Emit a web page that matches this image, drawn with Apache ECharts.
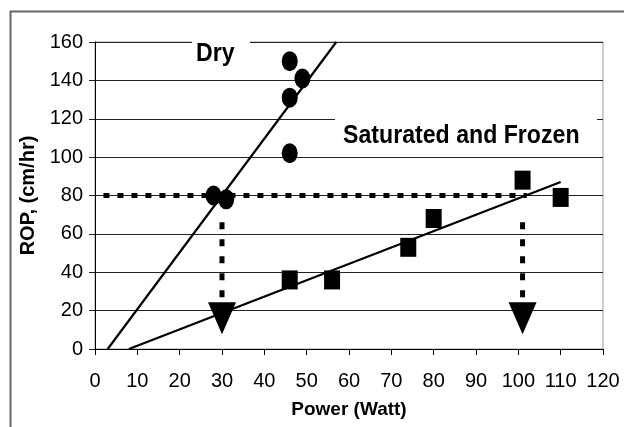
<!DOCTYPE html>
<html>
<head>
<meta charset="utf-8">
<script src="https://cdn.jsdelivr.net/npm/echarts@6/dist/echarts.min.js"></script>
<style>html,body{margin:0;padding:0;background:#fff}#c{width:624px;height:427px}</style>
</head>
<body>
<div id="c"></div>
<script>
// ---- data ----
const xTicks = [0, 10, 20, 30, 40, 50, 60, 70, 80, 90, 100, 110, 120];
const yTicks = [0, 20, 40, 60, 80, 100, 120, 140, 160];

const dryPower = [28, 31, 46, 46, 46, 49];
const dryROP   = [80, 78, 150, 131, 102, 141];

const satPower = [46, 56, 74, 80, 101, 110];
const satROP   = [36, 36, 53, 68, 88, 79];

const dryTrendPower = [3, 57];
const dryTrendROP   = [0, 160];

const satTrendPower = [8, 110];
const satTrendROP   = [0, 87];

const guidePower = [2, 102];
const guideROP   = [80, 80];

const dropPower  = [30, 101];
const dropTopROP = 66;
const dropBotROP = 27;
const arrowROP   = [16, 16];

const labelDry = 'Dry';
const labelSat = 'Saturated and Frozen';
const xTitle = 'Power (Watt)';
const yTitle = 'ROP, (cm/hr)';

// ---- build chart ----
const zip = (a, b) => a.map((v, i) => [v, b[i]]);
const chart = echarts.init(document.getElementById('c'), null, {renderer: 'canvas'});
const FONT = '"Liberation Sans", Arial, sans-serif';
const NARROW = '"Liberation Sans Narrow", "Arial Narrow", "Liberation Sans", sans-serif';

const dropSeries = dropPower.map(p => ({
  type: 'line', data: [[p, dropTopROP], [p, dropBotROP]], symbol: 'none',
  lineStyle: {color: '#000', width: 5, type: [7, 10], cap: 'butt'}, z: 3, silent: true
}));

chart.setOption({
  animation: false,
  backgroundColor: '#fff',
  grid: {left: 95, right: 21, top: 42, bottom: 78, show: true, borderColor: '#9a9a9a', borderWidth: 1},
  xAxis: {
    type: 'value', min: xTicks[0], max: xTicks[xTicks.length - 1], interval: 10,
    name: xTitle, nameLocation: 'middle', nameGap: 51,
    nameTextStyle: {fontFamily: FONT, fontSize: 19, fontWeight: 'bold', color: '#000'},
    axisLine: {lineStyle: {color: '#000', width: 1}},
    axisTick: {show: true, length: 6, lineStyle: {color: '#000'}},
    axisLabel: {fontFamily: NARROW, fontSize: 20, color: '#000', margin: 22},
    splitLine: {show: false}
  },
  yAxis: {
    type: 'value', min: yTicks[0], max: yTicks[yTicks.length - 1], interval: 20,
    name: yTitle, nameLocation: 'middle', nameGap: 57, nameRotate: 90,
    nameTextStyle: {fontFamily: FONT, fontSize: 20, fontWeight: 'bold', color: '#000'},
    axisLine: {show: true, lineStyle: {color: '#000', width: 1}},
    axisTick: {show: true, length: 6, lineStyle: {color: '#222'}},
    axisLabel: {fontFamily: NARROW, fontSize: 20, color: '#000', margin: 12},
    splitLine: {show: true, lineStyle: {color: '#222', width: 1}}
  },
  graphic: [
    {type: 'rect', left: 8, top: 9, shape: {width: 700, height: 500},
     style: {fill: 'none', stroke: '#666', lineWidth: 2}, z: 0, silent: true},
    {type: 'rect', left: 192, top: 34, shape: {width: 58, height: 34},
     style: {fill: '#fff'}, z: 1, silent: true},
    {type: 'text', x: 196, y: 54, scaleX: 0.89,
     style: {text: labelDry, font: 'bold 26px ' + FONT, fill: '#000', align: 'left', verticalAlign: 'middle'}, z: 1},
    {type: 'rect', left: 335, top: 116, shape: {width: 262, height: 38},
     style: {fill: '#fff'}, z: 1, silent: true},
    {type: 'text', x: 343, y: 136, scaleX: 0.89,
     style: {text: labelSat, font: 'bold 26px ' + FONT, fill: '#000', align: 'left', verticalAlign: 'middle'}, z: 1}
  ],
  series: [
    {type: 'line', data: zip(guidePower, guideROP), symbol: 'none',
     lineStyle: {color: '#000', width: 5, type: [6, 8], cap: 'butt'}, z: 3, silent: true},
    ...dropSeries,
    {type: 'line', data: zip(dryTrendPower, dryTrendROP), symbol: 'none',
     lineStyle: {color: '#000', width: 2.2}, z: 4, silent: true},
    {type: 'line', data: zip(satTrendPower, satTrendROP), symbol: 'none',
     lineStyle: {color: '#000', width: 2.2}, z: 4, silent: true},
    {type: 'scatter', data: zip(dryPower, dryROP), symbol: 'circle', symbolSize: [16, 20],
     itemStyle: {color: '#000', opacity: 1}, z: 5},
    {type: 'scatter', data: zip(satPower, satROP), symbol: 'rect', symbolSize: [16, 19],
     itemStyle: {color: '#000', opacity: 1}, z: 5},
    {type: 'scatter', data: zip(dropPower, arrowROP), symbol: 'triangle', symbolRotate: 180,
     symbolSize: [28, 32], itemStyle: {color: '#000', opacity: 1}, z: 5}
  ]
});
</script>
</body>
</html>
